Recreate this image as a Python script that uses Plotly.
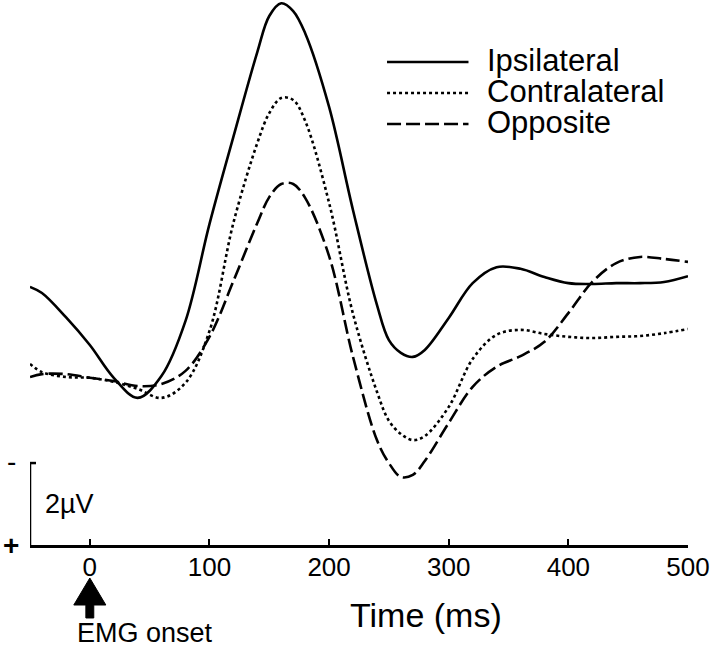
import plotly.graph_objects as go

# Time axis (ms) and potentials (µV, negative plotted upwards)
time_ms = [-50, -40, -20, 0, 20, 40, 60, 80, 100, 120, 140, 150, 160, 170, 180, 200, 220,
           240, 250, 260, 270, 280, 300, 320, 340, 360, 380, 400, 420, 440, 460, 480, 500]

ipsilateral = [-1.54, -1.39, -0.80, -0.12, 0.68, 1.17, 0.63, -0.71, -3.07, -5.20, -7.27, -8.15,
               -8.46, -8.27, -7.73, -5.93, -3.41, -1.10, -0.24, 0.07, 0.17, 0.00, -0.78, -1.63,
               -2.02, -1.98, -1.78, -1.63, -1.61, -1.63, -1.63, -1.66, -1.80]

contralateral = [0.34, 0.54, 0.66, 0.68, 0.78, 0.95, 1.17, 0.80, -0.46, -3.10, -5.05, -5.78,
                 -6.15, -6.10, -5.59, -3.59, -0.88, 1.02, 1.73, 2.05, 2.20, 2.10, 1.39, 0.22,
                 -0.37, -0.49, -0.39, -0.32, -0.29, -0.32, -0.34, -0.41, -0.51]

opposite = [0.66, 0.59, 0.59, 0.68, 0.76, 0.88, 0.83, 0.51, -0.32, -1.68, -3.10, -3.73,
            -4.05, -4.05, -3.71, -2.29, 0.17, 2.20, 2.76, 3.10, 3.05, 2.71, 1.78, 0.90,
            0.41, 0.15, -0.20, -0.90, -1.66, -2.12, -2.27, -2.22, -2.15]

series_names = ["Ipsilateral", "Contralateral", "Opposite"]
series_dash = ["solid", "dot", "14px,5px"]
tick_vals = [0, 100, 200, 300, 400, 500]
scale_bar_uv = 2
x_range = [-50, 500]
y_range = [4.76, -8.54]  # reversed: negative up

FONT = "Liberation Sans, Arial, sans-serif"

fig = go.Figure()
for name, vals, dash in zip(series_names, [ipsilateral, contralateral, opposite], series_dash):
    fig.add_trace(go.Scatter(
        x=time_ms, y=vals, mode="lines", name=name,
        line=dict(color="black", width=2.6, dash=dash, shape="spline", smoothing=1.0),
        showlegend=False,
    ))

shapes = []
annotations = []

# Manual legend
legend_y = [0.8862, 0.8294, 0.7725]
for name, dash, ly in zip(series_names, series_dash, legend_y):
    shapes.append(dict(type="line", xref="paper", yref="paper", x0=0.5426, x1=0.6664,
                       y0=ly, y1=ly, line=dict(color="black", width=2.6, dash=dash)))
    annotations.append(dict(xref="paper", yref="paper", x=0.692, y=ly + 0.002, text=name,
                            showarrow=False, xanchor="left", yanchor="middle",
                            font=dict(family=FONT, size=31, color="black")))

# Scale bar (2 µV) at left
y_bottom = y_range[0]
y_top_bar = y_bottom - scale_bar_uv
shapes.append(dict(type="line", xref="x", yref="y", x0=x_range[0], x1=x_range[0],
                   y0=y_bottom, y1=y_top_bar, line=dict(color="black", width=2.5)))
shapes.append(dict(type="line", xref="x", yref="y", x0=x_range[0], x1=x_range[0] + 5,
                   y0=y_top_bar, y1=y_top_bar, line=dict(color="black", width=2.5)))
annotations.append(dict(xref="x", yref="y", x=-39, y=y_bottom - scale_bar_uv / 2,
                        text="2µV", showarrow=False, xanchor="left", yanchor="middle",
                        font=dict(family=FONT, size=27, color="black")))
annotations.append(dict(xref="paper", yref="y", x=-0.0275, y=y_top_bar - 0.05, text="-",
                        showarrow=False, xanchor="center", yanchor="middle",
                        font=dict(family=FONT, size=28, color="black")))
annotations.append(dict(xref="paper", yref="y", x=-0.0285, y=y_bottom, text="<b>+</b>",
                        showarrow=False, xanchor="center", yanchor="middle",
                        font=dict(family=FONT, size=28, color="black")))

# EMG onset arrow
shapes.append(dict(type="path", xref="x", yref="paper",
                   path="M 0,-0.0606 L 13.4,-0.1101 L 3.3,-0.1101 L 3.3,-0.1339 L -3.3,-0.1339 "
                        "L -3.3,-0.1101 L -13.4,-0.1101 Z",
                   fillcolor="black", line=dict(color="black", width=1)))
annotations.append(dict(xref="x", yref="paper", x=-12, y=-0.161, text="EMG onset",
                        showarrow=False, xanchor="left", yanchor="middle",
                        font=dict(family=FONT, size=27, color="black")))

# X-axis title
annotations.append(dict(xref="x", yref="paper", x=281, y=-0.128, text="Time (ms)",
                        showarrow=False, xanchor="center", yanchor="middle",
                        font=dict(family=FONT, size=34, color="black")))

fig.update_layout(
    width=720, height=648,
    margin=dict(l=30, r=32, t=0, b=103),
    paper_bgcolor="white", plot_bgcolor="white",
    shapes=shapes, annotations=annotations,
    xaxis=dict(range=x_range, showgrid=False, zeroline=False, showline=True,
               linecolor="black", linewidth=2.5, ticks="inside", ticklen=6,
               tickwidth=2, tickcolor="black", tickvals=tick_vals,
               ticktext=[str(v) for v in tick_vals], ticklabelstandoff=-3,
               tickfont=dict(family=FONT, size=26, color="black")),
    yaxis=dict(range=y_range, showgrid=False, zeroline=False, showline=False,
               showticklabels=False, ticks=""),
)

fig.write_html("out.html", config={"displayModeBar": False},
               post_script="document.body.style.margin='0px';")
